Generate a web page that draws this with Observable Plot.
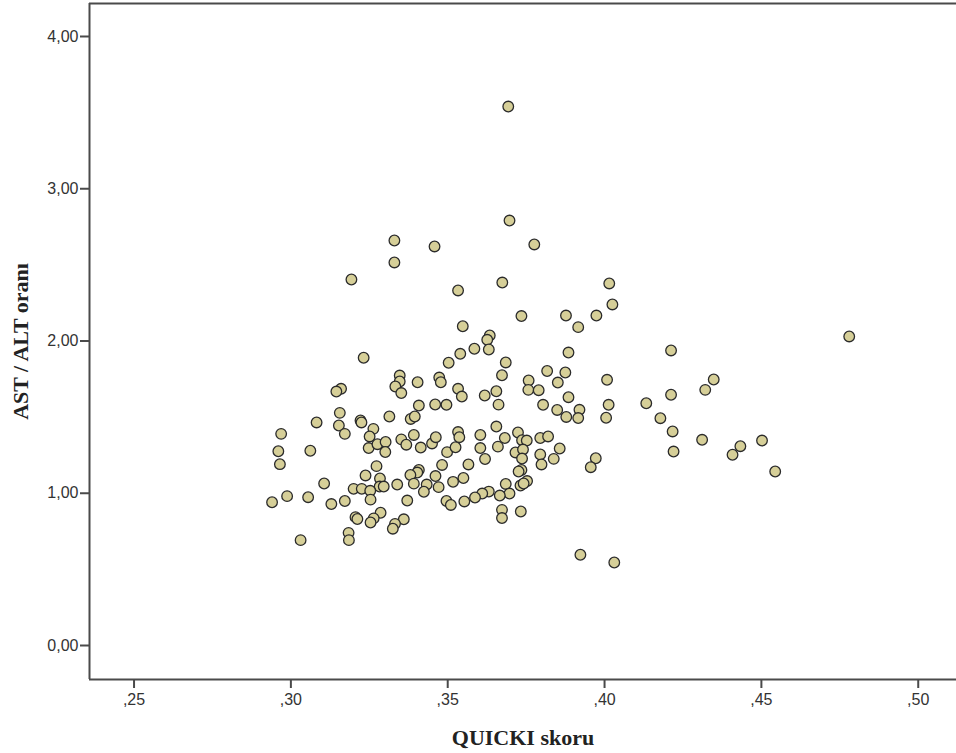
<!DOCTYPE html>
<html>
<head>
<meta charset="utf-8">
<script src="https://cdn.jsdelivr.net/npm/d3@7"></script>
<script src="https://cdn.jsdelivr.net/npm/@observablehq/plot@0.6"></script>
<style>
  html, body { margin: 0; padding: 0; background: #fff; }
  #chart svg [aria-label*="axis"] line,
  #chart svg [aria-label*="axis"] path { stroke-width: 2; stroke: #4a4a4a; }
</style>
</head>
<body>
<div id="chart"></div>
<script>
// QUICKI skoru (x) and AST / ALT oranı (y)
const quicki = [
  0.3693, 0.3697, 0.3330, 0.3458, 0.3776, 0.3330, 0.3193, 0.3674, 0.4015, 0.4025,
  0.3533, 0.3735, 0.3877, 0.3974, 0.3916, 0.3548, 0.3634, 0.3626, 0.3631, 0.3585,
  0.3540, 0.3503, 0.3685, 0.3885, 0.4212, 0.4780, 0.3232, 0.3817, 0.3875, 0.3673,
  0.3851, 0.3758, 0.3757, 0.3790, 0.3885, 0.3804, 0.3849, 0.3920, 0.3878, 0.3916,
  0.4008, 0.4013, 0.4005, 0.4133, 0.4212, 0.4348, 0.4321, 0.4178, 0.4217, 0.4220,
  0.4311, 0.4433, 0.4408, 0.4502, 0.4544, 0.3347, 0.3347, 0.3333, 0.3352, 0.3404,
  0.3473, 0.3478, 0.3533, 0.3545, 0.3618, 0.3655, 0.3662, 0.3408, 0.3460, 0.3496,
  0.3314, 0.3382, 0.3395, 0.3392, 0.3352, 0.3368, 0.3414, 0.3450, 0.3462, 0.3498,
  0.3525, 0.3533, 0.3537, 0.3604, 0.3604, 0.3619, 0.3655, 0.3682, 0.3660, 0.3724,
  0.3737, 0.3752, 0.3716, 0.3740, 0.3737, 0.3795, 0.3820, 0.3857, 0.3795, 0.3799,
  0.3838, 0.3972, 0.3956, 0.3735, 0.3726, 0.3753, 0.3732, 0.3742, 0.3685, 0.3697,
  0.3666, 0.3631, 0.3610, 0.3587, 0.3553, 0.3496, 0.3510, 0.3673, 0.3673, 0.3733,
  0.3566, 0.3550, 0.3517, 0.3482, 0.3461, 0.3471, 0.3433, 0.3424, 0.3408, 0.3403,
  0.3381, 0.3392, 0.3339, 0.3371, 0.3360, 0.3332, 0.3325, 0.3286, 0.3264, 0.3254,
  0.3206, 0.3212, 0.3160, 0.3145, 0.3156, 0.3082, 0.3153, 0.3172, 0.3222, 0.3225,
  0.3263, 0.3251, 0.2969, 0.3248, 0.3276, 0.3302, 0.3301, 0.2960, 0.3062, 0.2965,
  0.3273, 0.3238, 0.3284, 0.3283, 0.3296, 0.3200, 0.3226, 0.3253, 0.3254, 0.3106,
  0.2940, 0.2988, 0.3055, 0.3129, 0.3172, 0.3031, 0.3184, 0.3185, 0.3923, 0.4031
];
const astAlt = [
  3.540, 2.791, 2.660, 2.621, 2.634, 2.516, 2.404, 2.384, 2.378, 2.240,
  2.332, 2.164, 2.167, 2.167, 2.091, 2.097, 2.036, 2.008, 1.944, 1.949,
  1.916, 1.857, 1.859, 1.924, 1.938, 2.030, 1.890, 1.803, 1.793, 1.775,
  1.727, 1.741, 1.679, 1.677, 1.631, 1.581, 1.547, 1.548, 1.501, 1.494,
  1.745, 1.581, 1.496, 1.591, 1.647, 1.747, 1.679, 1.493, 1.406, 1.274,
  1.351, 1.309, 1.253, 1.346, 1.143, 1.773, 1.734, 1.701, 1.658, 1.729,
  1.760, 1.729, 1.686, 1.635, 1.642, 1.670, 1.582, 1.576, 1.583, 1.581,
  1.504, 1.488, 1.504, 1.383, 1.354, 1.319, 1.300, 1.327, 1.368, 1.270,
  1.302, 1.402, 1.368, 1.383, 1.297, 1.225, 1.438, 1.363, 1.306, 1.399,
  1.348, 1.346, 1.268, 1.287, 1.228, 1.363, 1.373, 1.294, 1.255, 1.189,
  1.226, 1.230, 1.171, 1.153, 1.143, 1.080, 1.051, 1.064, 1.061, 0.998,
  0.985, 1.011, 0.998, 0.972, 0.946, 0.949, 0.923, 0.891, 0.837, 0.880,
  1.189, 1.100, 1.075, 1.186, 1.113, 1.040, 1.057, 1.010, 1.153, 1.136,
  1.120, 1.063, 1.057, 0.952, 0.829, 0.799, 0.767, 0.872, 0.835, 0.808,
  0.843, 0.831, 1.686, 1.668, 1.528, 1.465, 1.445, 1.390, 1.478, 1.465,
  1.423, 1.373, 1.390, 1.297, 1.322, 1.337, 1.271, 1.276, 1.279, 1.191,
  1.178, 1.117, 1.097, 1.044, 1.044, 1.029, 1.029, 1.016, 0.958, 1.064,
  0.941, 0.981, 0.974, 0.929, 0.949, 0.692, 0.740, 0.692, 0.596, 0.545
];
const xTicks = [0.25, 0.30, 0.35, 0.40, 0.45, 0.50];
const yTicks = [0, 1, 2, 3, 4];
const xTitle = "QUICKI skoru";
const yTitle = "AST / ALT oranı";

const xDomain = [0.2358, 0.5122];
const yDomain = [-0.2233, 4.2167];

const points = quicki.map((q, i) => ({q, r: astAlt[i]}));

const chart = Plot.plot({
  width: 956,
  height: 753,
  marginLeft: 89,
  marginRight: 0,
  marginTop: 3,
  marginBottom: 74,
  style: {fontFamily: "'Liberation Sans', Arial, sans-serif", fontSize: "16px", color: "#333", background: "#fff"},
  x: {domain: xDomain, ticks: xTicks, tickFormat: d => d.toFixed(2).replace("0.", ","), tickSize: 9, tickPadding: 5, label: null},
  y: {domain: yDomain, ticks: yTicks, tickFormat: d => d.toFixed(2).replace(".", ","), tickSize: 9, tickPadding: 2, label: null},
  marks: [
    Plot.ruleX([xDomain[0]], {stroke: "#4a4a4a", strokeWidth: 2}),
    Plot.ruleY([yDomain[0]], {stroke: "#4a4a4a", strokeWidth: 2}),
    Plot.ruleY([yDomain[1]], {stroke: "#4a4a4a", strokeWidth: 2}),
    Plot.dot(points, {x: "q", y: "r", r: 5.3, fill: "#d6cf98", stroke: "#2b2b2b", strokeWidth: 1.3, fillOpacity: 1}),
    Plot.text([xTitle], {text: d => d, frameAnchor: "bottom", dy: 58, textAnchor: "middle", lineAnchor: "middle", fontFamily: "'Liberation Serif', 'Times New Roman', serif", fontWeight: "bold", fontSize: 22, fill: "#222"}),
    Plot.text([yTitle], {text: d => d, frameAnchor: "left", dx: -69, rotate: -90, textAnchor: "middle", lineAnchor: "middle", fontFamily: "'Liberation Serif', 'Times New Roman', serif", fontWeight: "bold", fontSize: 22, fill: "#222"})
  ]
});
document.getElementById("chart").appendChild(chart);
</script>
</body>
</html>
